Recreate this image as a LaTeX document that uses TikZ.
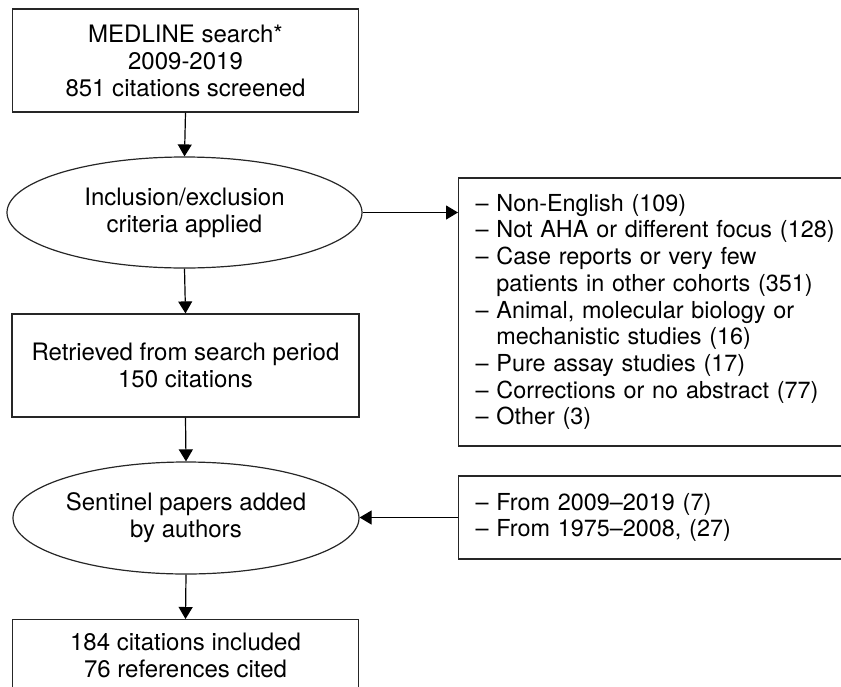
\documentclass[tikz,border=0pt]{standalone}
\usepackage{fontspec}
\setmainfont{TeX Gyre Heros}
\usetikzlibrary{shapes.geometric,arrows.meta}
\begin{document}
\begin{tikzpicture}[x=1pt,y=-1pt,
  every node/.style={font=\fontsize{24}{27}\selectfont, text=black},
  boxnode/.style={draw=black!85, line width=1.2pt, rectangle, inner sep=0pt, align=center},
  ellnode/.style={draw=black!85, line width=1.2pt, ellipse, inner sep=0pt, align=center},
  listbox/.style={draw=black!85, line width=1.2pt, rectangle, inner xsep=17pt, inner ysep=0pt, align=left, anchor=west, font=\fontsize{23.4}{26.7}\selectfont},
  arr/.style={draw=black, line width=1.2pt, -{Triangle[length=12pt,width=14pt]}}
]
\useasboundingbox (0,0) rectangle (841,686);
\clip (0,0) rectangle (841,686);

\node[boxnode, minimum width=346pt, minimum height=103pt] (search) at (185.5,60.5)
  {MEDLINE search*\\2009-2019\\851 citations screened};
\node[ellnode, minimum width=355pt, minimum height=111pt] (incl) at (184.5,212.5)
  {Inclusion/exclusion\\criteria applied};
\node[boxnode, minimum width=347pt, minimum height=103pt] (retr) at (185.5,365.5)
  {Retrieved from search period\\150 citations};
\node[ellnode, minimum width=346pt, minimum height=112pt] (sent) at (186,518)
  {Sentinel papers added\\by authors};
\node[boxnode, minimum width=346pt, minimum height=72pt, anchor=north] (final) at (185.5,619)
  {184 citations included\\76 references cited};

\node[listbox, minimum width=420pt, minimum height=268pt, text width=386pt] (excl) at (458,312)
  {– Non-English (109)\\
   – Not AHA or different focus (128)\\
   – Case reports or very few\\
   \phantom{– }patients in other cohorts (351)\\
   – Animal, molecular biology or\\
   \phantom{– }mechanistic studies (16)\\
   – Pure assay studies (17)\\
   – Corrections or no abstract (77)\\
   – Other (3)};
\node[listbox, minimum width=420pt, minimum height=83pt, text width=386pt] (added) at (458,517.5)
  {– From 2009–2019 (7)\\
   – From 1975–2008, (27)};

\draw[arr] (search.south) -- (incl.north);
\draw[arr] (incl.south) -- (retr.north);
\draw[arr] (retr.south) -- (sent.north);
\draw[arr] (sent.south) -- (final.north);
\draw[arr] (incl.east) -- (incl.east -| excl.west);
\draw[arr] (added.west) -- (added.west -| sent.east);
\end{tikzpicture}
\end{document}
